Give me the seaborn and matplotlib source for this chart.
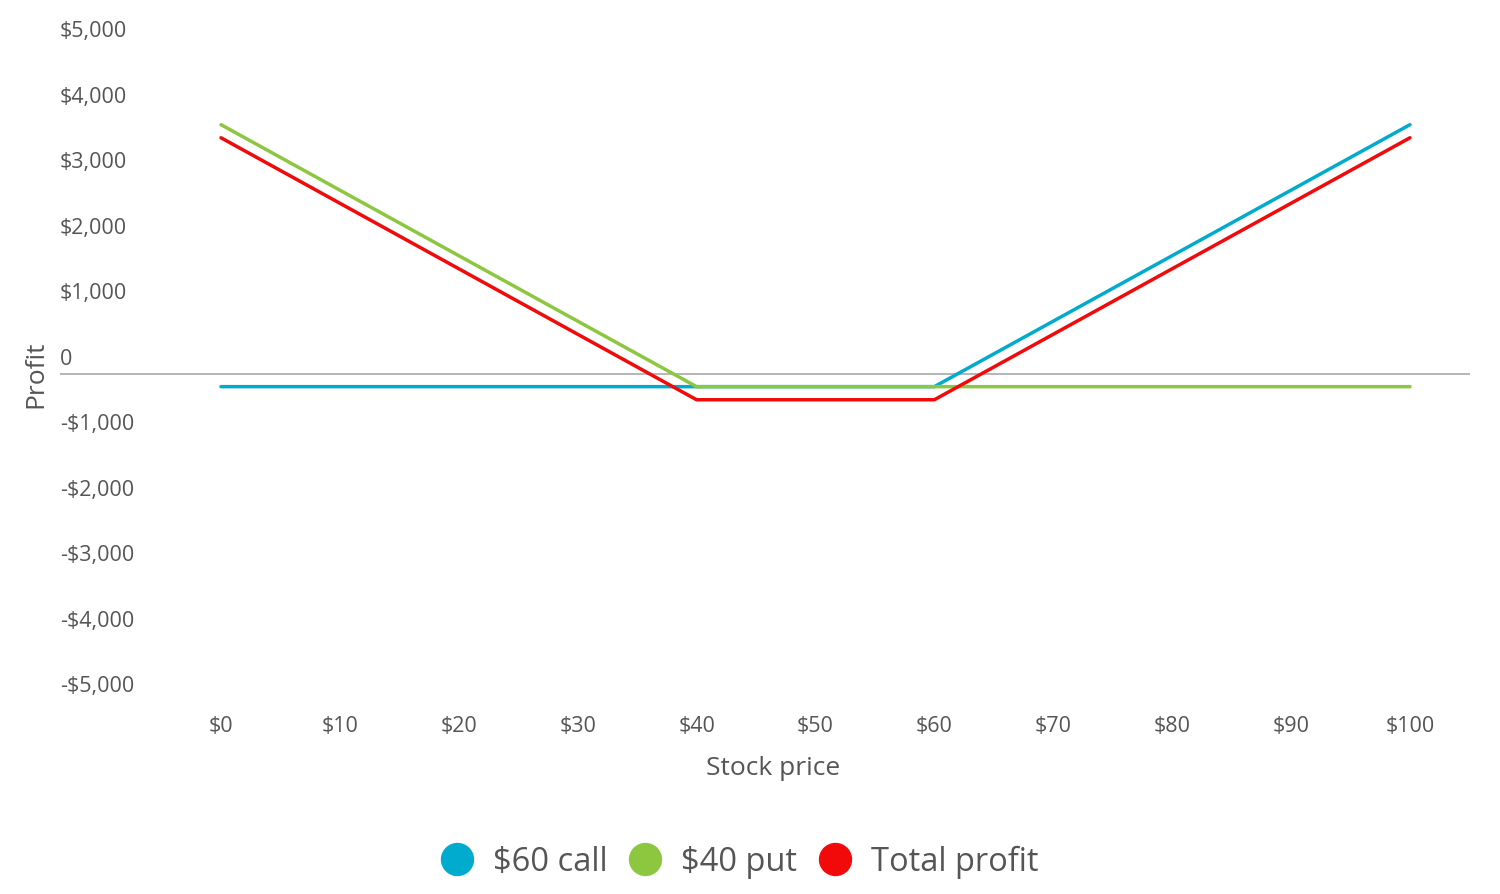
import numpy as np
import pandas as pd
import matplotlib
matplotlib.use("Agg")
import matplotlib.pyplot as plt
import matplotlib.transforms as mtransforms
from matplotlib.lines import Line2D
import seaborn as sns

# Data
stock_price = [0, 10, 20, 30, 40, 50, 60, 70, 80, 90, 100]
call_60 = [-200, -200, -200, -200, -200, -200, -200, 800, 1800, 2800, 3800]
put_40 = [3800, 2800, 1800, 800, -200, -200, -200, -200, -200, -200, -200]
total_profit = [3600, 2600, 1600, 600, -400, -400, -400, 600, 1600, 2600, 3600]
series_names = ["$60 call", "$40 put", "Total profit"]
colors = ["#00abcd", "#8dc63f", "#f20a0a"]
y_ticks = [-5000, -4000, -3000, -2000, -1000, 0, 1000, 2000, 3000, 4000, 5000]
y_tick_labels = ["-$5,000", "-$4,000", "-$3,000", "-$2,000", "-$1,000", "0",
                 "$1,000", "$2,000", "$3,000", "$4,000", "$5,000"]
x_tick_labels = ["$" + str(v) for v in stock_price]

df = pd.DataFrame({
    "price": stock_price * 3,
    "profit": call_60 + put_40 + total_profit,
    "series": [series_names[0]] * 11 + [series_names[1]] * 11 + [series_names[2]] * 11,
})

sns.set_theme(style="white")
plt.rcParams["font.family"] = ["Open Sans", "DejaVu Sans"]
text_color = "#555555"

fig = plt.figure(figsize=(15, 8.95), dpi=100)
ax = fig.add_axes([0.04, 0.2156, 0.94, 0.7318])

ax.axhline(0, color="#b0b0b0", lw=1.3, zorder=1)
sns.lineplot(data=df, x="price", y="profit", hue="series", palette=colors,
             hue_order=series_names, linewidth=2.5, ax=ax, legend=False,
             zorder=3)

ax.set_xlim(-13.54, 105.05)
ax.set_ylim(-5000, 5000)
for s in ax.spines.values():
    s.set_visible(False)

ax.set_xticks(stock_price)
ax.set_xticklabels(x_tick_labels, fontsize=15.5, color=text_color)
ax.set_yticks(y_ticks)
ax.set_yticklabels(y_tick_labels, fontsize=15.5, color=text_color)
ax.tick_params(axis="x", length=0, pad=10)
ax.tick_params(axis="y", length=0, pad=0)
offset = mtransforms.ScaledTranslation(0, 18 / 100, fig.dpi_scale_trans)
for lab in ax.get_yticklabels():
    lab.set_horizontalalignment("left")
    lab.set_transform(lab.get_transform() + offset)

ax.set_xlabel("Stock price", fontsize=19, color=text_color, labelpad=14)
ax.xaxis.label.set_x(0.506)
ax.set_ylabel("Profit", fontsize=19, color=text_color)
ax.yaxis.set_label_coords(-0.0085, 0.5)

handles = [Line2D([0], [0], marker="o", linestyle="none", markersize=23,
                  markerfacecolor=c, markeredgecolor=c) for c in colors]
fig.legend(handles, series_names, loc="center", bbox_to_anchor=(0.492, 0.036),
           ncol=3, frameon=False, fontsize=23.5, labelcolor=text_color,
           handletextpad=0.5, columnspacing=0.55, handlelength=1.2)

fig.savefig("out.png", dpi=100, facecolor="white")
